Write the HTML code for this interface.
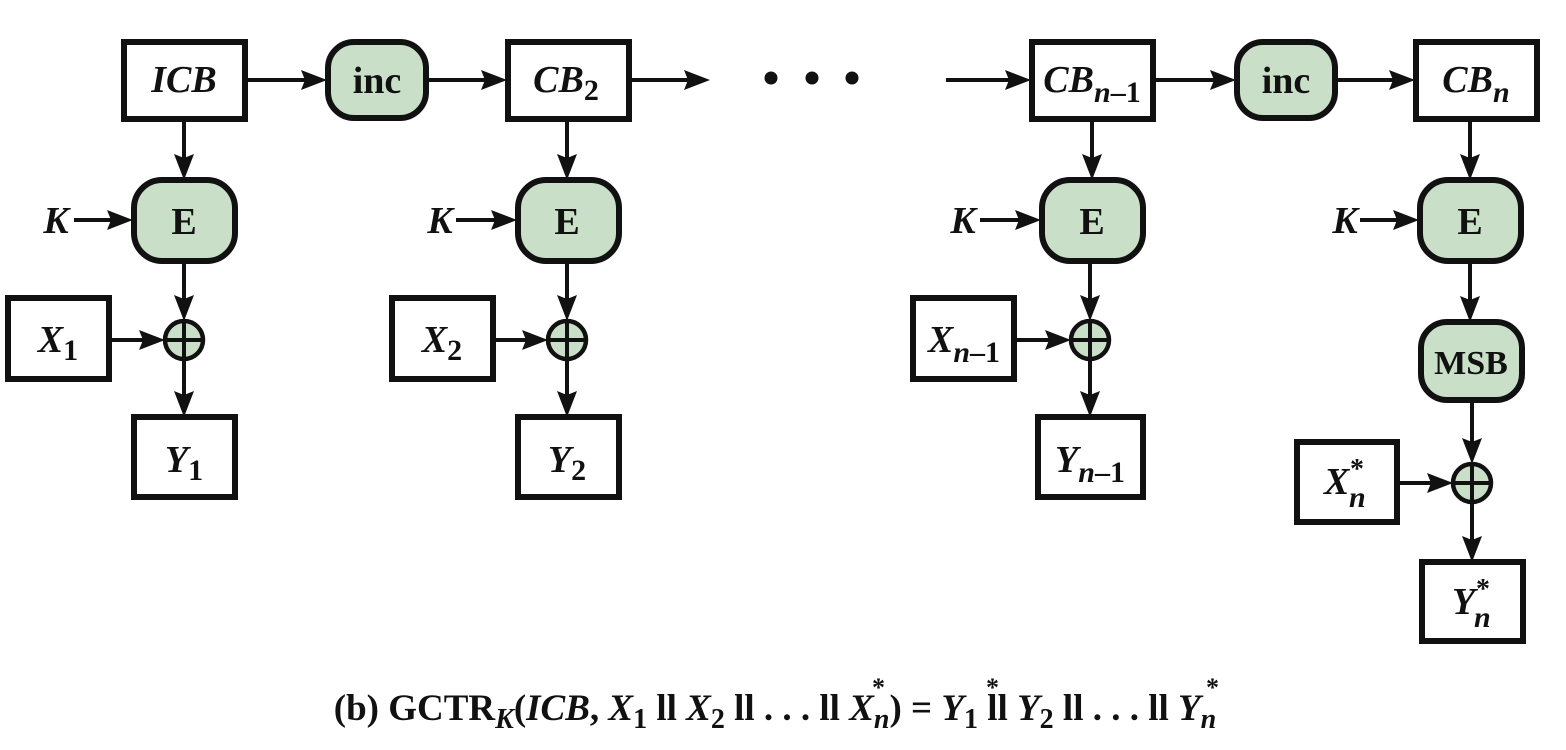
<!DOCTYPE html>
<html><head><style>
html,body{margin:0;padding:0;background:#fff;}
svg{display:block;}
text{font-family:"Liberation Serif",serif;font-weight:bold;fill:#111;}
</style></head><body>
<svg width="1566" height="750" viewBox="0 0 1566 750" xmlns="http://www.w3.org/2000/svg">
<g stroke="#111" stroke-width="6" fill="#fff">
<rect x="124" y="42" width="121" height="77"/>
<rect x="508" y="42" width="121" height="77"/>
<rect x="1032" y="42" width="121" height="77"/>
<rect x="1416" y="42" width="121" height="77"/>
<rect x="8" y="298" width="101" height="81"/>
<rect x="392" y="298" width="101" height="81"/>
<rect x="913" y="298" width="101" height="81"/>
<rect x="1297" y="442" width="100" height="80"/>
<rect x="134" y="417" width="101" height="80"/>
<rect x="518" y="417" width="101" height="80"/>
<rect x="1038" y="417" width="105" height="80"/>
<rect x="1422" y="562" width="101" height="79"/>
</g>
<g stroke="#111" stroke-width="6" fill="#c9dfc8">
<rect x="328" y="42" width="98" height="76" rx="26"/>
<rect x="1237" y="42" width="98" height="76" rx="26"/>
<rect x="134" y="180" width="101" height="81" rx="28"/>
<rect x="518" y="180" width="101" height="81" rx="28"/>
<rect x="1042" y="180" width="101" height="81" rx="28"/>
<rect x="1420" y="180" width="101" height="81" rx="28"/>
<rect x="1421" y="322" width="101" height="78" rx="26"/>
</g>
<g stroke="#111" stroke-width="4.5" fill="#c9dfc8">
<circle cx="184" cy="340" r="19"/>
<circle cx="567" cy="340" r="19"/>
<circle cx="1090" cy="340" r="19"/>
<circle cx="1472" cy="483" r="19"/>
</g>
<g stroke="#111" stroke-width="4">
<line x1="165" y1="340" x2="203" y2="340"/><line x1="184" y1="321" x2="184" y2="359"/>
<line x1="548" y1="340" x2="586" y2="340"/><line x1="567" y1="321" x2="567" y2="359"/>
<line x1="1071" y1="340" x2="1109" y2="340"/><line x1="1090" y1="321" x2="1090" y2="359"/>
<line x1="1453" y1="483" x2="1491" y2="483"/><line x1="1472" y1="464" x2="1472" y2="502"/>
</g>
<g stroke="#111" stroke-width="4" fill="none">
<line x1="246" y1="80" x2="315" y2="80"/>
<line x1="428" y1="80" x2="495" y2="80"/>
<line x1="631" y1="80" x2="697" y2="80"/>
<line x1="946" y1="80" x2="1019" y2="80"/>
<line x1="1155" y1="80" x2="1224" y2="80"/>
<line x1="1337" y1="80" x2="1403" y2="80"/>
<line x1="184" y1="120" x2="184" y2="167"/>
<line x1="567" y1="120" x2="567" y2="167"/>
<line x1="1092" y1="120" x2="1092" y2="167"/>
<line x1="1470" y1="120" x2="1470" y2="167"/>
<line x1="74" y1="220" x2="121" y2="220"/>
<line x1="456" y1="220" x2="505" y2="220"/>
<line x1="980" y1="220" x2="1029" y2="220"/>
<line x1="1360" y1="220" x2="1407" y2="220"/>
<line x1="184" y1="262" x2="184" y2="308"/>
<line x1="567" y1="262" x2="567" y2="308"/>
<line x1="1090" y1="262" x2="1090" y2="308"/>
<line x1="1470" y1="262" x2="1470" y2="310"/>
<line x1="1472" y1="401" x2="1472" y2="451"/>
<line x1="110" y1="340" x2="152" y2="340"/>
<line x1="494" y1="340" x2="535" y2="340"/>
<line x1="1015" y1="340" x2="1058" y2="340"/>
<line x1="1398" y1="483" x2="1440" y2="483"/>
<line x1="184" y1="359" x2="184" y2="404"/>
<line x1="567" y1="359" x2="567" y2="404"/>
<line x1="1090" y1="359" x2="1090" y2="404"/>
<line x1="1472" y1="502" x2="1472" y2="549"/>
</g>
<g fill="#111">
<polygon points="327,80 301,70 305,80 301,90"/>
<polygon points="507,80 481,70 485,80 481,90"/>
<polygon points="710,80 684,70 688,80 684,90"/>
<polygon points="1031,80 1005,70 1009,80 1005,90"/>
<polygon points="1236,80 1210,70 1214,80 1210,90"/>
<polygon points="1415,80 1389,70 1393,80 1389,90"/>
<polygon points="133,220 107,210 111,220 107,230"/>
<polygon points="517,220 491,210 495,220 491,230"/>
<polygon points="1041,220 1015,210 1019,220 1015,230"/>
<polygon points="1419,220 1393,210 1397,220 1393,230"/>
<polygon points="165,340 139,330 143,340 139,350"/>
<polygon points="548,340 522,330 526,340 522,350"/>
<polygon points="1071,340 1045,330 1049,340 1045,350"/>
<polygon points="1453,483 1427,473 1431,483 1427,493"/>
<polygon points="184,180 174,154 184,158 194,154"/>
<polygon points="567,180 557,154 567,158 577,154"/>
<polygon points="1092,180 1082,154 1092,158 1102,154"/>
<polygon points="1470,180 1460,154 1470,158 1480,154"/>
<polygon points="184,321 174,295 184,299 194,295"/>
<polygon points="567,321 557,295 567,299 577,295"/>
<polygon points="1090,321 1080,295 1090,299 1100,295"/>
<polygon points="1470,322 1460,296 1470,300 1480,296"/>
<polygon points="1472,464 1462,438 1472,442 1482,438"/>
<polygon points="184,417 174,391 184,395 194,391"/>
<polygon points="567,417 557,391 567,395 577,391"/>
<polygon points="1090,417 1080,391 1090,395 1100,391"/>
<polygon points="1472,562 1462,536 1472,540 1482,536"/>
<circle cx="771" cy="78" r="6.5"/><circle cx="812" cy="78" r="6.5"/><circle cx="852" cy="78" r="6.5"/>
</g>
<g font-size="38">
<text x="184" y="92" text-anchor="middle" font-style="italic">ICB</text>
<text x="377" y="93" text-anchor="middle">inc</text>
<text x="1286" y="93" text-anchor="middle">inc</text>
<text x="566" y="92" text-anchor="middle"><tspan font-style="italic">CB</tspan><tspan font-size="30" dy="8">2</tspan></text>
<text x="1092" y="92" text-anchor="middle"><tspan font-style="italic">CB</tspan><tspan font-size="30" dy="10"><tspan font-style="italic">n</tspan>–1</tspan></text>
<text x="1476" y="92" text-anchor="middle"><tspan font-style="italic">CB</tspan><tspan font-size="30" dy="10" font-style="italic">n</tspan></text>
<text x="184" y="234" text-anchor="middle">E</text>
<text x="567" y="234" text-anchor="middle">E</text>
<text x="1092" y="234" text-anchor="middle">E</text>
<text x="1470" y="234" text-anchor="middle">E</text>
<text x="1471" y="374" text-anchor="middle" font-size="34">MSB</text>
<text x="56" y="233" text-anchor="middle" font-style="italic">K</text>
<text x="440" y="233" text-anchor="middle" font-style="italic">K</text>
<text x="963" y="233" text-anchor="middle" font-style="italic">K</text>
<text x="1345" y="233" text-anchor="middle" font-style="italic">K</text>
<text x="58" y="352" text-anchor="middle"><tspan font-style="italic">X</tspan><tspan font-size="30" dy="8">1</tspan></text>
<text x="442" y="352" text-anchor="middle"><tspan font-style="italic">X</tspan><tspan font-size="30" dy="8">2</tspan></text>
<text x="964" y="352" text-anchor="middle"><tspan font-style="italic">X</tspan><tspan font-size="30" dy="10"><tspan font-style="italic">n</tspan>–1</tspan></text>
<text x="184" y="472" text-anchor="middle"><tspan font-style="italic">Y</tspan><tspan font-size="30" dy="8">1</tspan></text>
<text x="567" y="472" text-anchor="middle"><tspan font-style="italic">Y</tspan><tspan font-size="30" dy="8">2</tspan></text>
<text x="1090" y="472" text-anchor="middle"><tspan font-style="italic">Y</tspan><tspan font-size="30" dy="10"><tspan font-style="italic">n</tspan>–1</tspan></text>
<text x="1324" y="494" font-style="italic">X</text><text x="1350" y="478" font-size="28">*</text><text x="1349" y="507" font-size="30" font-style="italic">n</text>
<text x="1452" y="614" font-style="italic">Y</text><text x="1476" y="598" font-size="28">*</text><text x="1474" y="627" font-size="30" font-style="italic">n</text>
</g>
<text x="775" y="720" text-anchor="middle" font-size="37">(b) GCTR<tspan font-size="28" dy="8" font-style="italic">K</tspan><tspan dy="-8">(</tspan><tspan font-style="italic">ICB</tspan>, <tspan font-style="italic">X</tspan><tspan font-size="28" dy="8">1</tspan><tspan dy="-8"> ll </tspan><tspan font-style="italic">X</tspan><tspan font-size="28" dy="8">2</tspan><tspan dy="-8"> ll . . . ll </tspan><tspan font-style="italic">X</tspan><tspan font-size="28" font-style="italic" dy="8">n</tspan><tspan dy="-8">) = </tspan><tspan font-style="italic">Y</tspan><tspan font-size="28" dy="8">1</tspan><tspan dy="-8"> ll </tspan><tspan font-style="italic">Y</tspan><tspan font-size="28" dy="8">2</tspan><tspan dy="-8"> ll . . . ll </tspan><tspan font-style="italic">Y</tspan><tspan font-size="28" font-style="italic" dy="8">n</tspan></text>
<g font-size="26"><text x="872" y="696">*</text><text x="986" y="696">*</text><text x="1206" y="696">*</text></g>
</svg>
</body></html>
